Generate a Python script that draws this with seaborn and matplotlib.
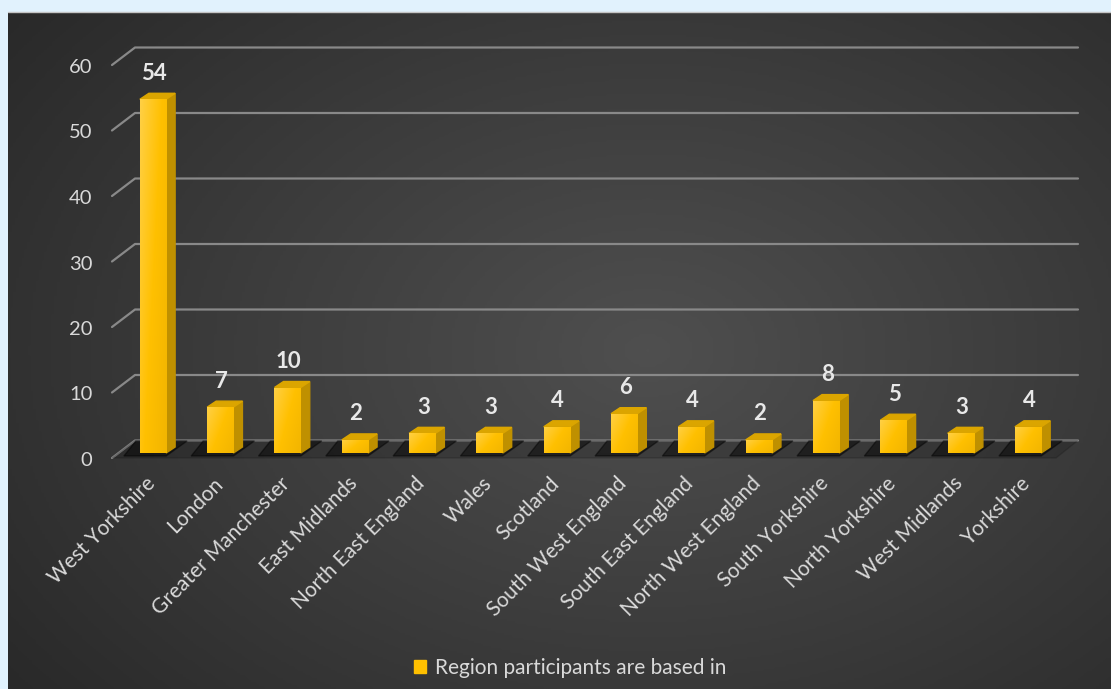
import numpy as np
import pandas as pd
import seaborn as sns
import matplotlib.pyplot as plt
from matplotlib.patches import Polygon, Patch, Rectangle
from matplotlib.lines import Line2D
from matplotlib.colors import LinearSegmentedColormap
from matplotlib.transforms import IdentityTransform, ScaledTranslation

# data
regions = ['West Yorkshire', 'London', 'Greater Manchester', 'East Midlands',
           'North East England', 'Wales', 'Scotland', 'South West England',
           'South East England', 'North West England', 'South Yorkshire',
           'North Yorkshire', 'West Midlands', 'Yorkshire']
counts = [54, 7, 10, 2, 3, 3, 4, 6, 4, 2, 8, 5, 3, 4]
y_ticks = [0, 10, 20, 30, 40, 50, 60]
legend_label = 'Region participants are based in'

df = pd.DataFrame({'region': regions, 'count': counts})

sns.set_theme(style='white')
plt.rcParams['font.family'] = ['Lato', 'DejaVu Sans']

W, H = 1111, 689
txt_col = '#d9d9d9'
gold = '#ffc000'

fig = plt.figure(figsize=(W / 100, H / 100), dpi=100, facecolor='#e1f2fd')

# dark panel with a soft glow in the middle
bg = fig.add_axes([8 / W, 0, 1 - 8 / W, 1 - 12 / H])
gx, gy = np.meshgrid(np.linspace(0, 1, 400), np.linspace(0, 1, 300))
r = np.sqrt(((gx - 0.58) / 0.75) ** 2 + ((gy - 0.5) / 0.85) ** 2)
glow = LinearSegmentedColormap.from_list('glow', ['#4f4f4f', '#3c3c3c', '#282828'])
bg.imshow(np.clip(r, 0, 1), cmap=glow, aspect='auto', vmin=0, vmax=1)
bg.set_axis_off()
fig.add_artist(Line2D([8 / W, 1], [1 - 11.5 / H] * 2, color='#c4c4c4', lw=1))

ax = fig.add_axes([112 / W, 1 - 453 / H, 943 / W, 393 / H])
ax.patch.set_alpha(0)
sns.barplot(data=df, x='region', y='count', color=gold, saturation=1,
            width=0.39, ax=ax, zorder=3, edgecolor='#d9a300', linewidth=0.6)
bars = [p for p in ax.patches if isinstance(p, Rectangle)]
ax.set_xlim(-0.609, 13.4)
ax.set_ylim(0, 60)
ax.set_yticks(y_ticks)
sns.despine(ax=ax, left=True, bottom=True)
ax.set_xlabel('')
ax.set_ylabel('')

# back wall gridlines with the little diagonal at the left
tr = ax.transData
x_left = tr.transform((ax.get_xlim()[0], 0))[0]
for t in y_ticks:
    yd = tr.transform((0, t))[1]
    ax.add_line(Line2D([x_left, x_left + 23, x_left + 966], [yd - 5, yd + 12.5, yd + 12.5],
                       transform=IdentityTransform(), color='#898989', lw=1.6,
                       clip_on=False, zorder=1))

# floor band
y0 = tr.transform((0, 0))[1]
ax.add_patch(Polygon([(x_left, y0 - 5), (x_left + 944, y0 - 5),
                      (x_left + 966, y0 + 12.5), (x_left + 23, y0 + 12.5)],
                     transform=IdentityTransform(), color='black', alpha=0.15,
                     clip_on=False, zorder=1.5))

# give the flat bars a side and a top face
front_cmap = LinearSegmentedColormap.from_list('front', ['#ffd045', '#ffc000', '#f2b500'])
dx, dy = 9, 6
for p in bars:
    bx, bw, bh = p.get_x(), p.get_width(), p.get_height()
    (x0, yb), (x1, yt) = tr.transform([(bx, 0), (bx + bw, bh)])
    # shadow on the floor
    ax.add_patch(Polygon([(x0 - 16, yb - 3), (x1, yb - 3), (x1 + dx + 12, yb + dy + 6),
                          (x0 - 4, yb + dy + 6)], transform=IdentityTransform(),
                         color='black', alpha=0.45, clip_on=False, zorder=2))
    ax.add_patch(Polygon([(x1, yb), (x1 + dx, yb + dy), (x1 + dx, yt + dy), (x1, yt)],
                         transform=IdentityTransform(), color='#bf9000',
                         clip_on=False, zorder=3))
    ax.add_patch(Polygon([(x0, yt), (x1, yt), (x1 + dx, yt + dy), (x0 + dx, yt + dy)],
                         transform=IdentityTransform(), color='#dba500',
                         clip_on=False, zorder=3))
    grad = np.linspace(0, 1, 64)[None, :] * 0.6 + np.linspace(0, 1, 64)[:, None] * 0.4
    im = ax.imshow(grad, extent=[bx, bx + bw, 0, bh], cmap=front_cmap,
                   aspect='auto', zorder=3.2)
    im.set_clip_path(p)
ax.set_xlim(-0.609, 13.4)
ax.set_ylim(0, 60)

# value labels
for i, v in enumerate(counts):
    ax.annotate(str(v), xy=(i, v), xytext=(1, 26), textcoords='offset pixels',
                ha='center', va='center', fontsize=16, fontweight='bold',
                color='#e8e8e8', zorder=5)

ax.tick_params(axis='y', length=0, pad=14, labelsize=14.5, labelcolor=txt_col)
ax.tick_params(axis='x', length=0, pad=16, labelsize=15, labelcolor=txt_col)
for lbl in ax.get_yticklabels():
    lbl.set_transform(lbl.get_transform() + ScaledTranslation(0, -0.06, fig.dpi_scale_trans))
for lbl in ax.get_xticklabels():
    lbl.set_rotation(45)
    lbl.set_ha('right')
    lbl.set_rotation_mode('anchor')
    lbl.set_transform(lbl.get_transform() + ScaledTranslation(-0.08, 0.02, fig.dpi_scale_trans))

fig.legend(handles=[Patch(color=gold)], labels=[legend_label], loc='center',
           bbox_to_anchor=(0.513, 1 - 668 / H), frameon=False, handlelength=0.6,
           handleheight=0.6, handletextpad=0.4, labelcolor=txt_col, fontsize=15)

fig.savefig('out.png', dpi=100, facecolor=fig.get_facecolor())
